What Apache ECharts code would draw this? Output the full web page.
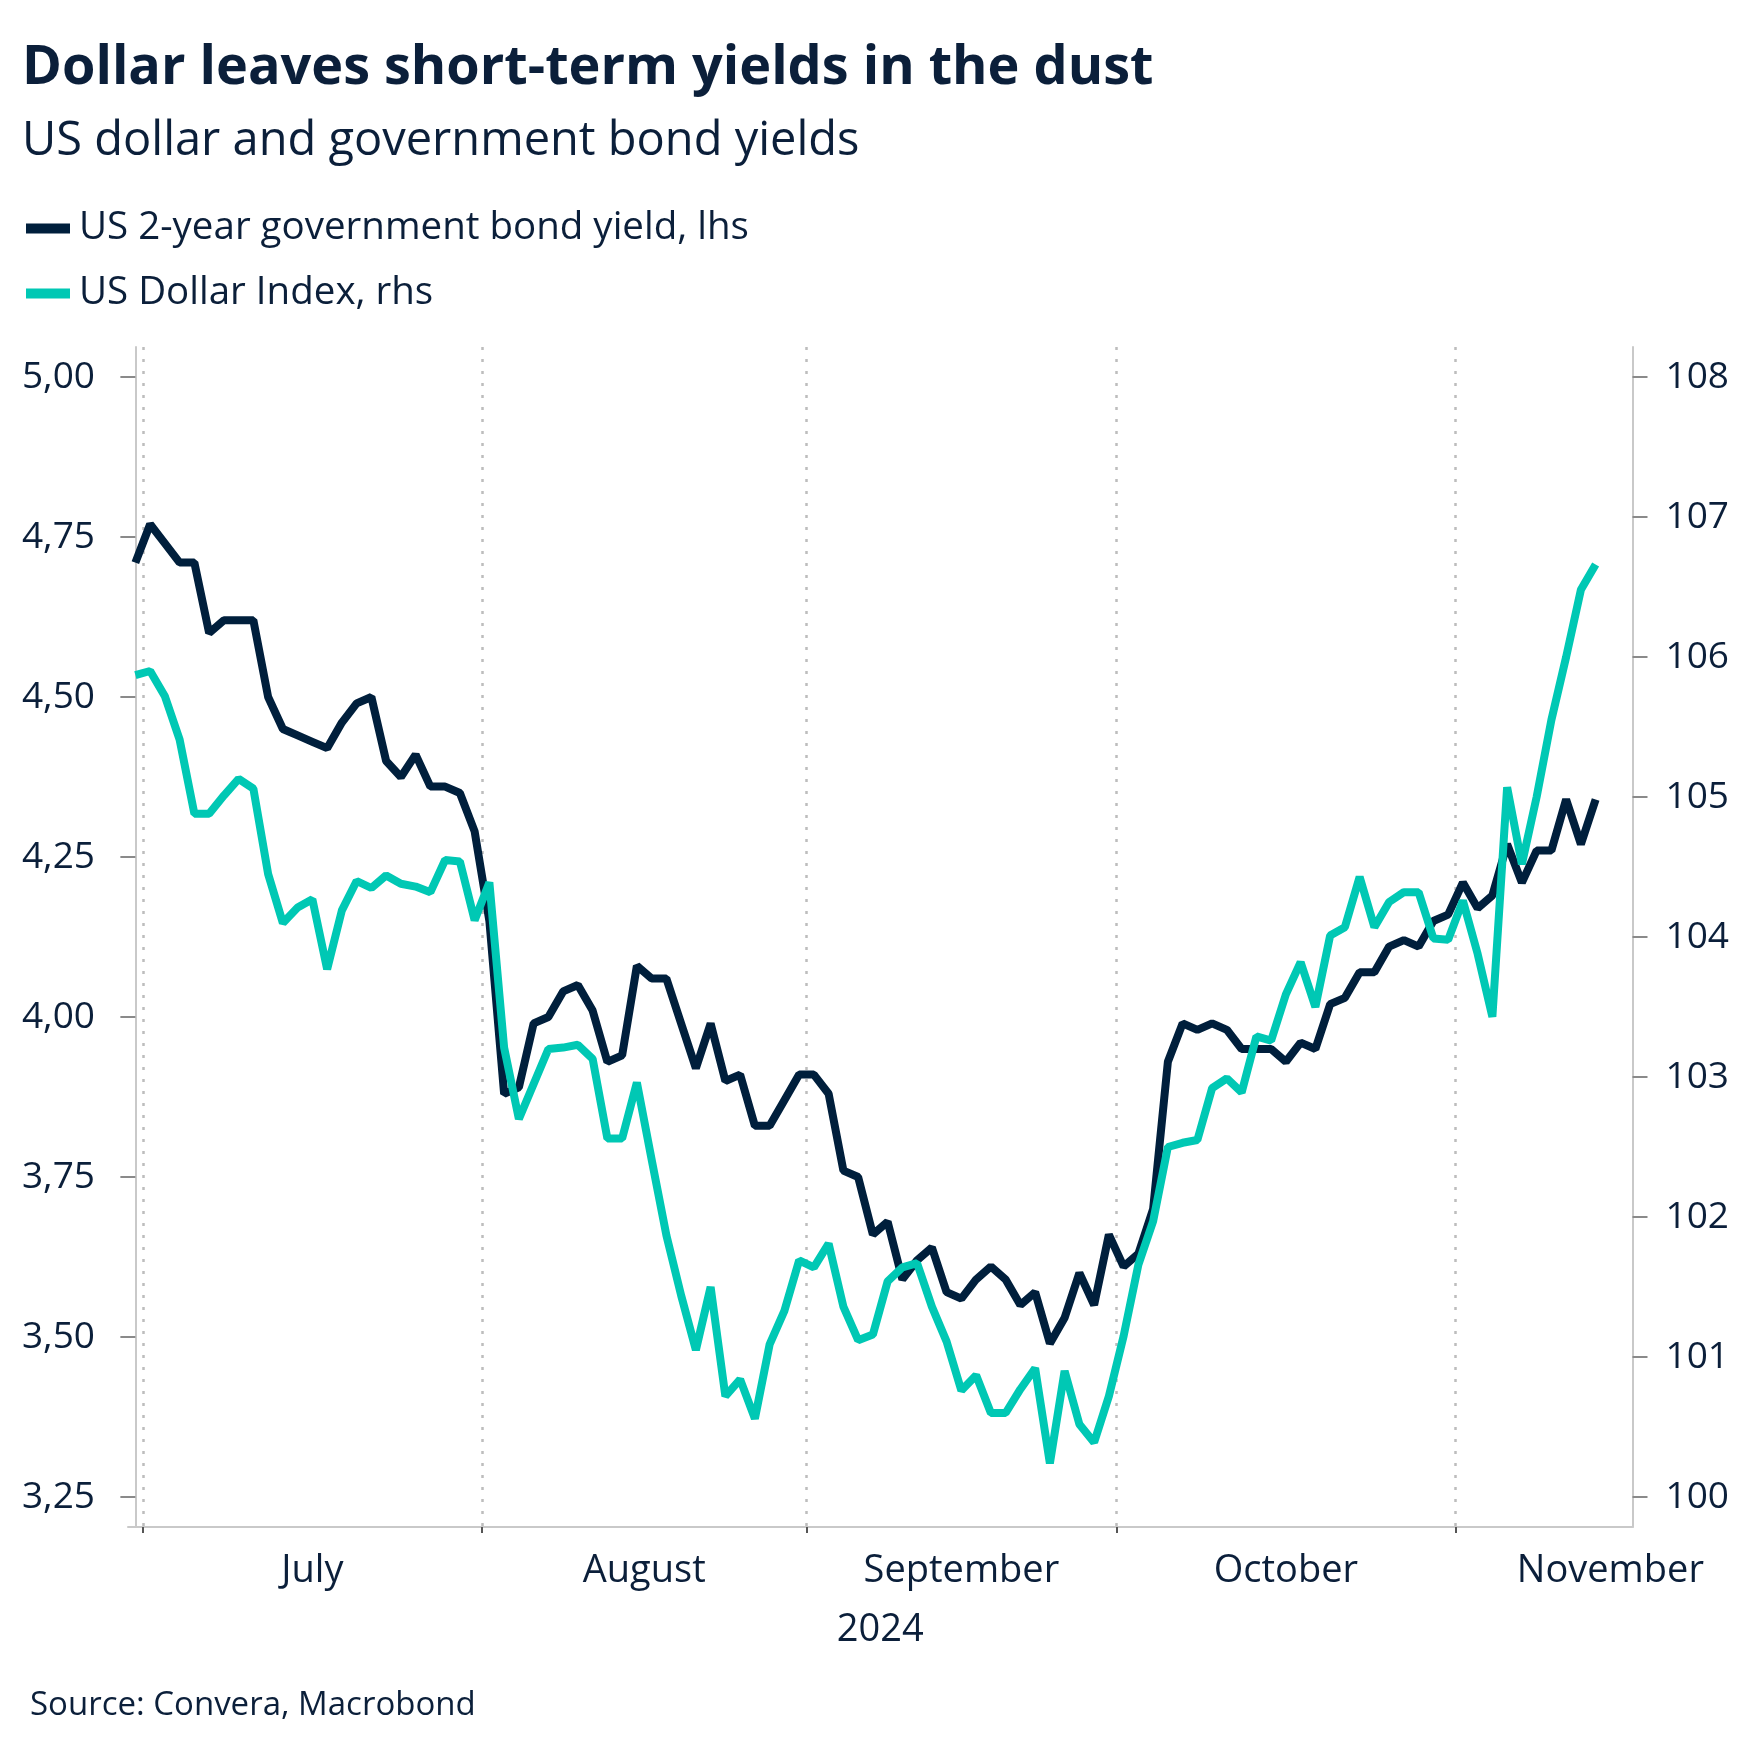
<!DOCTYPE html>
<html><head><meta charset="utf-8">
<script src="https://cdn.jsdelivr.net/npm/echarts@6/dist/echarts.min.js"></script>
<style>html,body{margin:0;padding:0;background:#fff}#c{width:1752px;height:1756px}</style>
</head><body><div id="c"></div>
<script>
// ---- data (one value per weekday, 28 Jun 2024 .. 14 Nov 2024) ----
const yieldName = 'US 2-year government bond yield, lhs';
const dxyName = 'US Dollar Index, rhs';
const us2y = [
  4.71, 4.77, 4.74, 4.71, 4.71, 4.60, 4.62, 4.62, 4.62, 4.50,
  4.45, 4.44, 4.43, 4.42, 4.46, 4.49, 4.50, 4.40, 4.375, 4.41,
  4.36, 4.36, 4.35, 4.29, 4.15, 3.88, 3.89, 3.99, 4.00, 4.04,
  4.05, 4.01, 3.93, 3.94, 4.08, 4.06, 4.06, 3.99, 3.92, 3.99,
  3.90, 3.91, 3.83, 3.83, 3.87, 3.91, 3.91, 3.88, 3.76, 3.75,
  3.66, 3.68, 3.59, 3.62, 3.64, 3.57, 3.56, 3.59, 3.61, 3.59,
  3.55, 3.57, 3.49, 3.53, 3.60, 3.55, 3.66, 3.61, 3.63, 3.70,
  3.93, 3.99, 3.98, 3.99, 3.98, 3.95, 3.95, 3.95, 3.93, 3.96,
  3.95, 4.02, 4.03, 4.07, 4.07, 4.11, 4.12, 4.11, 4.15, 4.16,
  4.21, 4.17, 4.19, 4.27, 4.21, 4.26, 4.26, 4.34, 4.27, 4.34
];
const dxy = [
  105.87, 105.90, 105.72, 105.41, 104.88, 104.88, 105.01, 105.13, 105.06, 104.45,
  104.10, 104.21, 104.27, 103.77, 104.19, 104.40, 104.35, 104.44, 104.38, 104.36,
  104.32, 104.55, 104.54, 104.12, 104.39, 103.21, 102.70, 102.95, 103.20, 103.21,
  103.23, 103.13, 102.56, 102.56, 102.96, 102.41, 101.87, 101.44, 101.05, 101.50,
  100.72, 100.84, 100.56, 101.09, 101.33, 101.69, 101.64, 101.81, 101.36, 101.12,
  101.16, 101.54, 101.64, 101.67, 101.36, 101.11, 100.76, 100.87, 100.60, 100.60,
  100.77, 100.92, 100.24, 100.90, 100.52, 100.39, 100.72, 101.15, 101.66, 101.97,
  102.50, 102.53, 102.55, 102.92, 102.99, 102.89, 103.29, 103.26, 103.59, 103.82,
  103.50, 104.01, 104.07, 104.43, 104.07, 104.25, 104.32, 104.32, 103.99, 103.98,
  104.26, 103.88, 103.43, 105.07, 104.52, 105.00, 105.55, 106.00, 106.48, 106.66
];
const monthNames = ['July', 'August', 'September', 'October', 'November'];
const monthCenters = [12, 34.5, 56, 78, 100];      // weekday index at month centre
const monthStarts = [0.5, 23.5, 45.5, 66.5, 89.5];  // weekday index of month boundary
const leftTicks = [3.25, 3.5, 3.75, 4.0, 4.25, 4.5, 4.75, 5.0];
const rightTicks = [100, 101, 102, 103, 104, 105, 106, 107, 108];
const yearLabel = '2024';
const titleText = 'Dollar leaves short-term yields in the dust';
const subtitleText = 'US dollar and government bond yields';
const sourceText = 'Source: Convera, Macrobond';

// ---- styles ----
const FONT = "'Open Sans', 'Noto Sans', sans-serif";
const TXT = '#0b1f3a';
const NAVY = '#001f3c';
const TEAL = '#00c8b4';
const AXIS = '#c9c9c9';
const TICK = '#8a8a8a';

const chart = echarts.init(document.getElementById('c'), null, {renderer: 'canvas'});
chart.setOption({
  animation: false,
  backgroundColor: '#fff',
  textStyle: {fontFamily: FONT, color: TXT},
  title: [
    {text: titleText, left: 22, top: 42, padding: 0,
     textStyle: {fontFamily: FONT, fontSize: 54, fontWeight: 'bold', color: TXT}},
    {text: subtitleText, left: 22, top: 118, padding: 0,
     textStyle: {fontFamily: FONT, fontSize: 47, fontWeight: 'normal', color: TXT}},
    {text: sourceText, left: 30, top: 1689, padding: 0,
     textStyle: {fontFamily: FONT, fontSize: 33, fontWeight: 'normal', color: TXT}}
  ],
  legend: {
    orient: 'vertical', left: 26, top: 208, padding: 0,
    itemWidth: 44, itemHeight: 10, itemGap: 24, icon: 'rect',
    data: [yieldName, dxyName],
    textStyle: {fontFamily: FONT, fontSize: 38.5, color: TXT, lineHeight: 41, padding: [0, 0, 0, 4]}
  },
  grid: {left: 128, right: 119.5, top: 347, bottom: 229, containLabel: false},
  xAxis: {
    type: 'value', min: -0.5, max: 101.5,
    name: yearLabel, nameLocation: 'middle', nameGap: 84.5,
    nameTextStyle: {fontFamily: FONT, fontSize: 38, color: TXT},
    axisLine: {show: true, onZero: false, lineStyle: {color: AXIS, width: 2}},
    axisTick: {show: true, customValues: monthStarts, length: 6, lineStyle: {color: '#555', width: 2}},
    axisLabel: {customValues: monthCenters, margin: 25, fontFamily: FONT, fontSize: 38, color: TXT,
      formatter: v => monthNames[monthCenters.indexOf(v)]},
    splitLine: {show: true, lineStyle: {type: [3, 9], color: '#bdbdbd', width: 2.5}}
  },
  yAxis: [
    {
      type: 'value', position: 'left', min: 3.203125, max: 5.046875,
      axisLine: {show: true, lineStyle: {color: AXIS, width: 2}},
      axisTick: {show: true, customValues: leftTicks, length: 15, lineStyle: {color: TICK, width: 2}},
      axisLabel: {customValues: leftTicks, margin: 33, fontFamily: FONT, fontSize: 37, color: TXT,
        formatter: v => v.toFixed(2).replace('.', ',')},
      splitLine: {show: false}
    },
    {
      type: 'value', position: 'right', min: 100 - 30 / 140, max: 108 + 30 / 140,
      axisLine: {show: true, lineStyle: {color: AXIS, width: 2}},
      axisTick: {show: true, customValues: rightTicks, length: 15, lineStyle: {color: TICK, width: 2}},
      axisLabel: {customValues: rightTicks, margin: 33, fontFamily: FONT, fontSize: 37, color: TXT,
        formatter: v => String(Math.round(v))},
      splitLine: {show: false}
    }
  ],
  series: [
    {name: yieldName, type: 'line', yAxisIndex: 0, showSymbol: false, symbol: 'none',
     color: NAVY, lineStyle: {width: 8, color: NAVY},
     data: us2y.map((v, i) => [i, v])},
    {name: dxyName, type: 'line', yAxisIndex: 1, showSymbol: false, symbol: 'none',
     color: TEAL, lineStyle: {width: 8, color: TEAL},
     data: dxy.map((v, i) => [i, v])}
  ]
});
</script></body></html>
